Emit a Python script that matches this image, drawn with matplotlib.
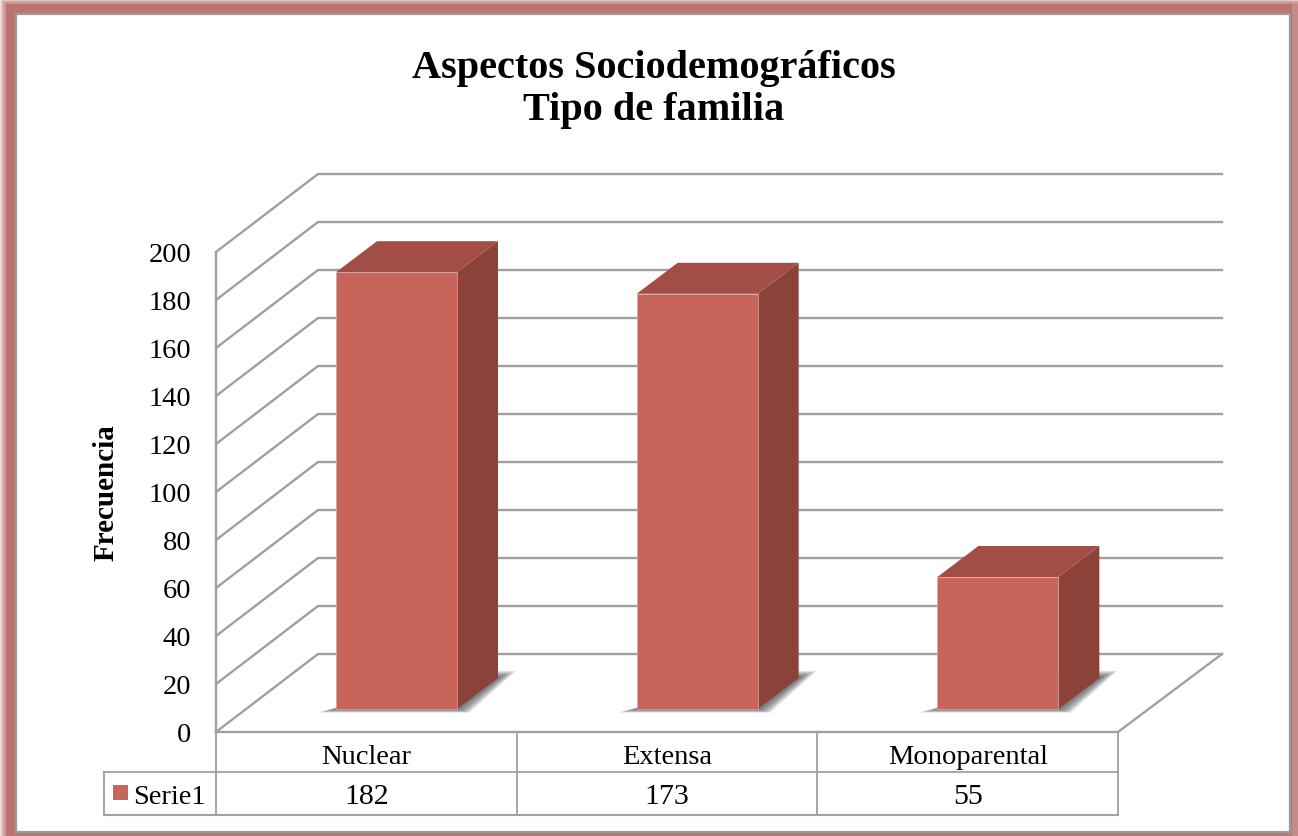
import matplotlib
matplotlib.use('Agg')
import matplotlib.pyplot as plt
from matplotlib.patches import Polygon, Rectangle

# datos
categorias = ['Nuclear', 'Extensa', 'Monoparental']
serie1 = [182, 173, 55]
y_ticks = list(range(0, 201, 20))
titulo = 'Aspectos Sociodemográficos\nTipo de familia'

W, H = 1298, 837
plt.rcParams['font.family'] = ['Liberation Serif', 'DejaVu Serif']

# colores
GRIS = '#a0a0a0'
ROJO = '#c9645a'
ROJO_TOP = '#a24e46'
ROJO_LADO = '#8a4239'
MARCO = '#bc7470'

# geometria en pixeles del plano frontal
X0, X1 = 216, 1118
Y0, Y200 = 733, 253
px_x = (X1 - X0) / 3
px_y = (Y0 - Y200) / 200

# profundidad de la caja y de las barras, en unidades de datos
DX, DX_DER, DY = 102 / px_x, 104 / px_x, 78 / px_y
BDX, BDY = 41 / px_x, 31 / px_y
FONDO = 23 / px_y
ANCHO = 121 / px_x
MARGEN = 120 / px_x
LW = 1.7

fig = plt.figure(figsize=(W / 100, H / 100), dpi=100, facecolor='white')

# marco exterior con borde difuso
bg = fig.add_axes([0, 0, 1, 1], zorder=0)
bg.set_xlim(0, W)
bg.set_ylim(H, 0)
bg.axis('off')
for i in range(7):
    bg.add_patch(Rectangle((i, i * 0.75), W - 2 * i + 6, H + 8, fc=MARCO, ec='none', alpha=0.22))
bg.add_patch(Rectangle((6, 5), W - 12, H, fc=MARCO, ec='none'))
bg.add_patch(Rectangle((16, 15), 1274, 818, fc='white', ec='#9a9a9a', lw=1.6))

ax = fig.add_axes([X0 / W, 1 - Y0 / H, (X1 - X0) / W, (Y0 - Y200) / H], zorder=1)
ax.set_xlim(0, 3)
ax.set_ylim(0, 200)
ax.patch.set_alpha(0)
for s in ax.spines.values():
    s.set_visible(False)

ax.set_xticks([])
ax.set_yticks(y_ticks)
ax.tick_params(axis='y', length=0, pad=18, labelsize=20.5)
ax.set_ylabel('Frecuencia', fontsize=21, fontweight='bold', labelpad=21)


def linea(xs, ys, lw=LW, z=2):
    ax.plot(xs, ys, color=GRIS, lw=lw, zorder=z, clip_on=False, solid_capstyle='projecting')


# rejilla: pared lateral y pared del fondo
for v in y_ticks:
    linea([0, DX, 3 + DX_DER], [v, v + DY, v + DY])
linea([0, 0], [0, 200])
# suelo
linea([0, 3, 3 + DX_DER], [0, 0, DY])

# tabla de datos
fila1, fila2 = -40 / px_y, -83 / px_y
izq = -112 / px_x
for x in range(4):
    linea([x, x], [0, fila2], lw=1.3)
linea([izq, 3], [fila1, fila1], lw=1.3)
linea([izq, 3], [fila2, fila2], lw=1.5)
linea([izq, izq], [fila1, fila2], lw=1.3)
for i, (c, v) in enumerate(zip(categorias, serie1)):
    ax.text(i + 0.5, fila1 / 2 - 5 / px_y, c, ha='center', va='center', fontsize=20.5, clip_on=False)
    ax.text(i + 0.5, (fila1 + fila2) / 2 - 3 / px_y, str(v), ha='center', va='center', fontsize=21.5, clip_on=False)
ax.add_patch(Rectangle((-103 / px_x, fila1 - 13 / px_y), 15 / px_x, -15 / px_y, fc=ROJO, ec='none', clip_on=False))
ax.text(-83 / px_x, (fila1 + fila2) / 2 - 3 / px_y, 'Serie1', ha='left', va='center', fontsize=20.5, clip_on=False)

# barras
lefts = [i + MARGEN for i in range(len(serie1))]
for x, v in zip(lefts, serie1):
    r = x + ANCHO
    # sombra sobre el suelo
    for g in range(1, 10):
        e = (10 - g) * 2 / px_x
        ey = (10 - g) * 0.4 / px_y
        ax.add_patch(Polygon([(x - e, FONDO - ey), (r + e * 0.7, FONDO - ey),
                              (r + BDX + e, FONDO + BDY + 2 * ey), (r, FONDO + BDY + 2 * ey)],
                             fc='#4a4a4a', ec='none', alpha=0.13, zorder=3, clip_on=False))
    ax.add_patch(Polygon([(r, FONDO), (r + BDX, FONDO + BDY), (r + BDX, FONDO + BDY + v), (r, FONDO + v)],
                         fc=ROJO_LADO, ec='none', zorder=4, clip_on=False))
    ax.add_patch(Polygon([(x, FONDO + v), (x + BDX, FONDO + v + BDY), (r + BDX, FONDO + v + BDY), (r, FONDO + v)],
                         fc=ROJO_TOP, ec='none', zorder=4, clip_on=False))
ax.bar(lefts, serie1, width=ANCHO, bottom=FONDO, align='edge', color=ROJO, edgecolor='#d9a7a2',
       linewidth=0.5, zorder=5)

fig.suptitle(titulo, x=654 / W, y=1 - 50 / H, va='top', fontsize=29, fontweight='bold', linespacing=1.17)

fig.savefig('out.png', dpi=100)
